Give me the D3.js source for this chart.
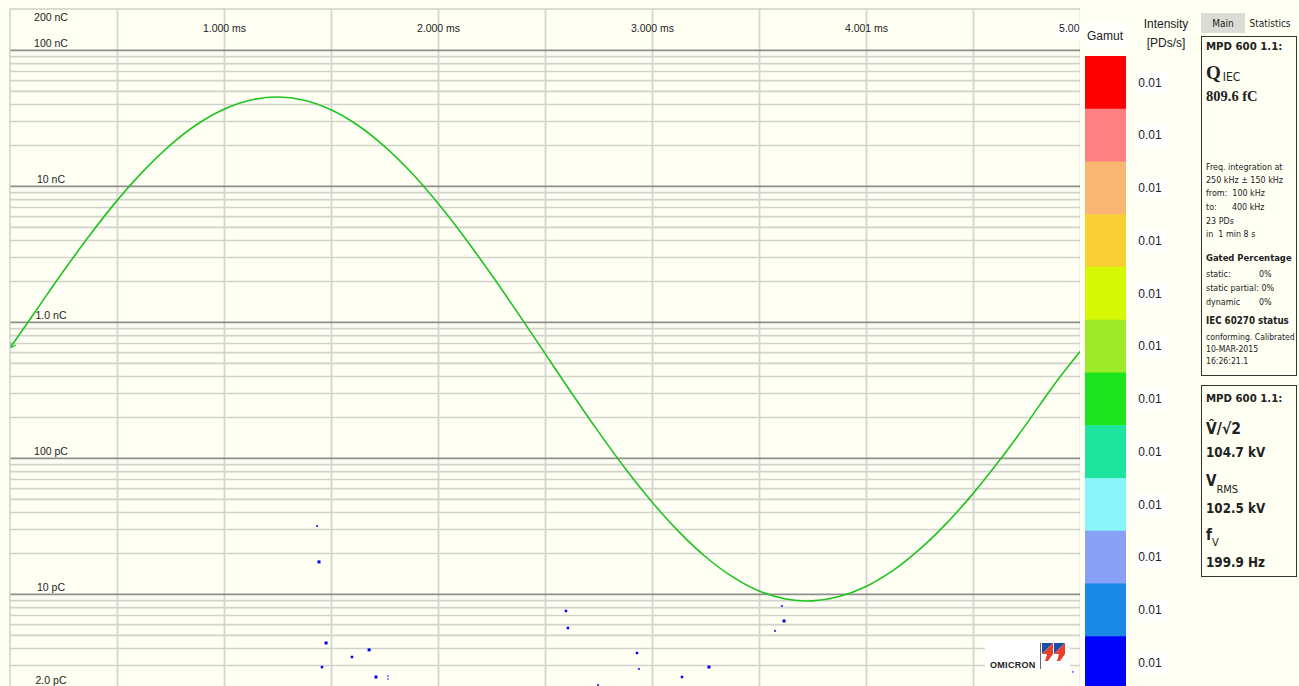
<!DOCTYPE html>
<html>
<head>
<meta charset="utf-8">
<script src="https://cdn.jsdelivr.net/npm/d3@7"></script>
<style>
  html, body { margin: 0; padding: 0; background: #fffff4; }
  svg { display: block; }
  text { font-family: "Liberation Sans", Arial, sans-serif; fill: #222; }
  .panel text { font-family: "DejaVu Sans Condensed", "Liberation Sans", sans-serif; }
</style>
</head>
<body>
<svg id="chart" width="1299" height="686"></svg>
<script>
// Phase axis (ms) and charge axis (pC)
const xTicks = [1, 2, 3, 4, 5];
const xTickLabels = ["1.000 ms", "2.000 ms", "3.000 ms", "4.001 ms", "5.00"];
const yTicks = [2, 10, 100, 1000, 10000, 100000, 200000];
const yTickLabels = ["2.0 pC", "10 pC", "100 pC", "1.0 nC", "10 nC", "100 nC", "200 nC"];

// Test voltage over one cycle, sampled every 0.125 ms (kV)
const voltTime = [0, 0.125, 0.25, 0.375, 0.5, 0.625, 0.75, 0.875, 1, 1.125, 1.25, 1.375, 1.5, 1.625, 1.75, 1.875,
  2, 2.125, 2.25, 2.375, 2.5, 2.625, 2.75, 2.875, 3, 3.125, 3.25, 3.375, 3.5, 3.625, 3.75, 3.875,
  4, 4.125, 4.25, 4.375, 4.5, 4.625, 4.75, 4.875, 5];
const voltKV = [0.6, 23.2, 45.8, 67.3, 87.2, 104.8, 120.0, 132.1, 140.9, 146.3, 148.1, 146.2, 140.6, 131.5, 119.1, 103.7,
  85.6, 65.4, 43.6, 20.8, -2.6, -26.0, -48.7, -70.2, -89.9, -107.3, -122.1, -133.8, -142.2, -146.9, -148.0, -145.5,
  -139.6, -130.3, -117.8, -102.6, -85.0, -65.3, -44.0, -21.7, -1.5];
const voltPeak = 148.1;

// Partial discharge pulses: phase position (ms), apparent charge (pC), marker size
const pdTime = [1.435, 1.444, 2.598, 2.607, 1.477, 1.678, 1.598, 1.458, 1.710, 1.766, 1.766, 2.930, 2.939, 3.266, 3.140, 2.748, 3.607, 3.617, 3.575, 4.967];
const pdCharge = [31.6, 17.2, 7.5, 5.62, 4.36, 3.88, 3.44, 2.90, 2.45, 2.49, 2.37, 3.68, 2.81, 2.90, 2.45, 2.14, 8.16, 6.33, 5.35, 2.67];
const pdSize = [2, 3, 2.5, 2.5, 3, 3, 2.5, 2.5, 3, 1.5, 1.5, 2.5, 2, 3, 2.5, 2, 2, 3, 2, 1.5];

// Intensity gamut, top (highest) to bottom
const gamutColors = ["#ff0000", "#ff8080", "#f9b571", "#f8d034", "#d5f905", "#9cea28", "#1de51d", "#1de5a0", "#88f5f8", "#88a0f5", "#1a88e5", "#0000ff"];
const gamutLabels = ["0.01", "0.01", "0.01", "0.01", "0.01", "0.01", "0.01", "0.01", "0.01", "0.01", "0.01", "0.01"];

const svg = d3.select("#chart");
const plot = { left: 10, right: 1080, top: 9, bottom: 689 };

svg.append("rect").attr("width", 1299).attr("height", 686).attr("fill", "#fffff4");

const x = d3.scaleLinear().domain([0, 5]).range([plot.left, plot.right]);
const y = d3.scaleLog().domain([2, 200000]).range([plot.bottom, plot.top]);
const yV = d3.scaleLinear().domain([-voltPeak, voltPeak]).range([601, 97]);

svg.append("clipPath").attr("id", "plotClip")
  .append("rect").attr("x", plot.left).attr("y", plot.top - 9)
  .attr("width", plot.right - plot.left).attr("height", plot.bottom - plot.top + 9);

const g = svg.append("g").attr("clip-path", "url(#plotClip)");

// horizontal grid: minor lines at 2..9 per decade, decades darker
const minor = [];
[1, 10, 100, 1000, 10000].forEach(d => { for (let k = 2; k <= 9; k++) minor.push(k * d); });
const minorIn = minor.filter(v => v >= 2 && v < 200000);
const decades = [10, 100, 1000, 10000, 100000];

g.append("g")
  .attr("transform", `translate(${plot.left},0)`)
  .call(d3.axisLeft(y).tickValues(minorIn).tickSize(-(plot.right - plot.left)).tickFormat(""))
  .call(a => a.select(".domain").remove())
  .call(a => a.selectAll("line").attr("stroke", "#d2d2cc").attr("stroke-width", 1.6));

// vertical grid every 0.5 ms
const vGrid = d3.range(0.5, 5.01, 0.5);
g.append("g")
  .attr("transform", `translate(0,${plot.top})`)
  .call(d3.axisBottom(x).tickValues(vGrid).tickSize(plot.bottom - plot.top).tickFormat(""))
  .call(a => a.select(".domain").remove())
  .call(a => a.selectAll("line").attr("stroke", "#d4d4d0").attr("stroke-width", 1.8));

g.append("g")
  .attr("transform", `translate(${plot.left},0)`)
  .call(d3.axisLeft(y).tickValues(decades).tickSize(-(plot.right - plot.left)).tickFormat(""))
  .call(a => a.select(".domain").remove())
  .call(a => a.selectAll("line").attr("stroke", "#8e8e8e").attr("stroke-width", 1.8));

// frame (top and left)
svg.append("line").attr("x1", plot.left).attr("x2", plot.right).attr("y1", plot.top).attr("y2", plot.top)
  .attr("stroke", "#cfcfcb").attr("stroke-width", 1.5);
svg.append("line").attr("x1", plot.left).attr("x2", plot.left).attr("y1", plot.top).attr("y2", 686)
  .attr("stroke", "#cfcfcb").attr("stroke-width", 1.5);

// phase labels along the top; the last one sits flush against the right edge
const xa = g.append("g")
  .attr("transform", `translate(0,35)`)
  .call(d3.axisTop(x).tickValues(xTicks).tickSize(0).tickFormat((d, i) => xTickLabels[i]));
xa.select(".domain").remove();
xa.selectAll("text").attr("font-family", "Liberation Sans, Arial, sans-serif")
  .attr("font-size", "10.5px").attr("fill", "#222").attr("dy", 0);
const lastTick = xa.selectAll(".tick").filter(d => d === 5);
lastTick.select("text").attr("text-anchor", "end").attr("x", -1);
lastTick.insert("rect", "text")
  .attr("x", -24).attr("y", -12).attr("width", 24).attr("height", 16).attr("fill", "#ffffff");

// charge labels, just above their grid line
g.append("g").selectAll("text").data(yTicks).join("text")
  .attr("x", 51)
  .attr("y", d => Math.min(684, Math.max(21, y(d) - 3)))
  .attr("text-anchor", "middle")
  .attr("font-size", "10.5px")
  .text((d, i) => yTickLabels[i]);

// test voltage trace
const line = d3.line()
  .x((d, i) => x(voltTime[i]))
  .y(d => yV(d))
  .curve(d3.curveCatmullRom);
g.append("path").datum(voltKV).attr("d", line)
  .attr("fill", "none").attr("stroke", "#1ec41e").attr("stroke-width", 1.6);
// small arrow tip at the start of the trace
g.append("path")
  .attr("d", `M${x(0) + 1},${yV(voltKV[0]) - 6} L${x(0)},${yV(voltKV[0])} L${x(0) + 6},${yV(voltKV[0]) - 3}`)
  .attr("fill", "none").attr("stroke", "#1ec41e").attr("stroke-width", 1.2);

// PD pulses
g.append("g").selectAll("rect").data(pdTime).join("rect")
  .attr("x", (d, i) => x(d) - pdSize[i] / 2)
  .attr("y", (d, i) => y(pdCharge[i]) - pdSize[i] / 2)
  .attr("width", (d, i) => pdSize[i])
  .attr("height", (d, i) => pdSize[i])
  .attr("fill", (d, i) => pdSize[i] >= 2.5 ? "#0000ff" : "#3a3aff");

// OMICRON logo
const logo = svg.append("g");
logo.append("rect").attr("x", 985).attr("y", 640).attr("width", 85).attr("height", 30).attr("fill", "#ffffff");
logo.append("text").attr("x", 990).attr("y", 668).attr("font-size", "9px").attr("font-weight", "bold")
  .attr("fill", "#3a3a3a").attr("letter-spacing", "0.3").text("OMICRON");
logo.append("line").attr("x1", 1040.5).attr("x2", 1040.5).attr("y1", 643).attr("y2", 669)
  .attr("stroke", "#666").attr("stroke-width", 1);
[1042, 1054].forEach(ox => {
  logo.append("path").attr("d", `M${ox},643 L${ox + 11},643 L${ox},654 Z`).attr("fill", "#1e4fa8");
  logo.append("path").attr("d", `M${ox + 11},643 L${ox + 11},654 L${ox + 6},661 L${ox + 3},661 L${ox + 5},654 L${ox},654 Z`)
    .attr("fill", "#e8402a");
});

// gamut bar
const gTop = 56, gBottom = 689;
const gy = d3.scaleBand().domain(d3.range(gamutColors.length)).range([gTop, gBottom]);
svg.append("rect").attr("x", 1084).attr("y", 22).attr("width", 43).attr("height", 26).attr("fill", "#ffffff").attr("opacity", 0.6);
svg.append("text").attr("x", 1105).attr("y", 40).attr("text-anchor", "middle").attr("font-size", "12px").text("Gamut");
svg.append("text").attr("x", 1166).attr("y", 28).attr("text-anchor", "middle").attr("font-size", "12px").text("Intensity");
svg.append("text").attr("x", 1166).attr("y", 47).attr("text-anchor", "middle").attr("font-size", "12px").text("[PDs/s]");

svg.append("g").selectAll("rect").data(gamutColors).join("rect")
  .attr("x", 1085).attr("width", 41)
  .attr("y", (d, i) => gy(i)).attr("height", gy.bandwidth() + 0.5)
  .attr("fill", d => d);

const gl = svg.append("g").selectAll("g").data(gamutLabels).join("g")
  .attr("transform", (d, i) => `translate(1150,${gy(i) + gy.bandwidth() / 2})`);
gl.append("rect").attr("x", -13).attr("y", -10).attr("width", 30).attr("height", 21).attr("fill", "#ffffff");
gl.append("text").attr("text-anchor", "middle").attr("dy", "0.35em").attr("font-size", "12px").text(d => d);

// side panels
const panel = svg.append("g").attr("class", "panel");
panel.append("rect").attr("x", 1201).attr("y", 13).attr("width", 44).attr("height", 20).attr("fill", "#dcdcd6");
panel.append("text").attr("x", 1223).attr("y", 27).attr("text-anchor", "middle").attr("font-size", "10px").text("Main");
panel.append("text").attr("x", 1270).attr("y", 27).attr("text-anchor", "middle").attr("font-size", "10px").text("Statistics");

panel.append("rect").attr("x", 1201.5).attr("y", 36.5).attr("width", 95).attr("height", 339)
  .attr("fill", "#fffff4").attr("stroke", "#333").attr("stroke-width", 1);
panel.append("rect").attr("x", 1201.5).attr("y", 385.5).attr("width", 95).attr("height", 191)
  .attr("fill", "#fffff4").attr("stroke", "#333").attr("stroke-width", 1);

const px = 1206;
function txt(ty, s, size, weight, color, fam) {
  const t = panel.append("text").attr("x", px).attr("y", ty).attr("font-size", size + "px")
    .attr("font-weight", weight || "normal").attr("fill", color || "#111");
  if (fam) t.style("font-family", fam);
  t.text(s);
  return t;
}
txt(50, "MPD 600 1.1:", 11.3, "bold");
const q = panel.append("text").attr("x", px).attr("y", 79).attr("fill", "#111");
q.append("tspan").attr("font-size", "19px").attr("font-weight", "bold")
  .style("font-family", "Liberation Serif, serif").text("Q");
q.append("tspan").attr("font-size", "12px").attr("dx", 2).attr("dy", 2).text("IEC");
txt(101, "809.6 fC", 14.5, "bold", "#111", "Liberation Serif, serif");

const small = 8.9;
txt(170, "Freq. integration at", small);
txt(183, "250 kHz ± 150 kHz", small);
txt(196, "from:  100 kHz", small).attr("xml:space", "preserve");
txt(210, "to:      400 kHz", small).attr("xml:space", "preserve");
txt(224, "23 PDs", small);
txt(237, "in  1 min 8 s", small).attr("xml:space", "preserve");
txt(261, "Gated Percentage", 9.4, "bold");
txt(277, "static:", small);
panel.append("text").attr("x", 1259).attr("y", 277).attr("font-size", small + "px").attr("fill", "#2a9a2a").text("0%");
txt(291, "static partial: 0%", small);
txt(305, "dynamic", small);
panel.append("text").attr("x", 1259).attr("y", 305).attr("font-size", small + "px").attr("fill", "#111").text("0%");
txt(324, "IEC 60270 status", 9.7, "bold");
txt(340, "conforming. Calibrated", 8.6, "normal", "#139013");
txt(352, "10-MAR-2015", 8.6, "normal", "#139013");
txt(364, "16:26:21.1", 8.6, "normal", "#139013");

txt(402, "MPD 600 1.1:", 11.3, "bold");
txt(434, "V\u0302/√2", 15.5, "bold");
txt(457, "104.7 kV", 13.3, "bold");
const vr = panel.append("text").attr("x", px).attr("y", 486).attr("fill", "#111");
vr.append("tspan").attr("font-size", "15px").attr("font-weight", "bold").text("V");
vr.append("tspan").attr("font-size", "11px").attr("dy", 7).text("RMS");
txt(513, "102.5 kV", 13.3, "bold");
const fv = panel.append("text").attr("x", px).attr("y", 540).attr("fill", "#111");
fv.append("tspan").attr("font-size", "15px").attr("font-weight", "bold").text("f");
fv.append("tspan").attr("font-size", "11px").attr("dy", 6).text("V");
txt(567, "199.9 Hz", 13.3, "bold");
</script>
</body>
</html>
